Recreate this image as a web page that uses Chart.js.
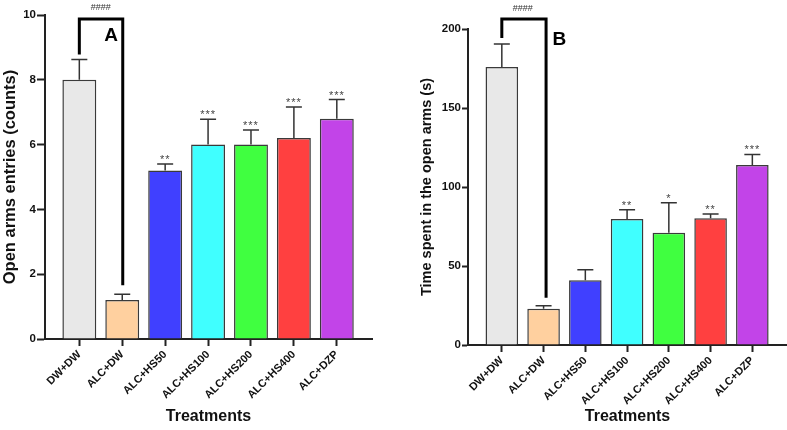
<!DOCTYPE html>
<html>
<head>
<meta charset="utf-8">
<script src="https://cdn.jsdelivr.net/npm/chart.js@4.4.0/dist/chart.umd.min.js"></script>
<style>
  html, body { margin: 0; padding: 0; background: #fff; }
  #wrap { position: relative; width: 787px; height: 430px; overflow: hidden; }
  #left { position: absolute; left: 0; top: 0; }
  #right { position: absolute; left: 415px; top: 0; }
</style>
</head>
<body>
<div id="wrap">
  <canvas id="left" width="380" height="430"></canvas>
  <canvas id="right" width="372" height="430"></canvas>
</div>
<script>
const categories = ["DW+DW", "ALC+DW", "ALC+HS50", "ALC+HS100", "ALC+HS200", "ALC+HS400", "ALC+DZP"];
const barColors = ["#e8e8e8", "#ffd09f", "#4040ff", "#40ffff", "#40ff40", "#ff4040", "#c244e8"];

// panel A : open arms entries
const entriesMean = [8.0, 1.2, 5.2, 6.0, 6.0, 6.2, 6.8];
const entriesSem = [0.63, 0.18, 0.2, 0.78, 0.45, 0.96, 0.59];
const entriesStars = ["", "", "**", "***", "***", "***", "***"];
const entriesTicks = [0, 2, 4, 6, 8, 10];

// panel B : time in open arms
const timeMean = [176, 23, 41, 79.7, 71, 80.2, 114];
const timeSem = [14.5, 1.9, 6.6, 5.9, 19, 2.7, 6.6];
const timeStars = ["", "", "", "**", "*", "**", "***"];
const timeTicks = [0, 50, 100, 150, 200];

const FONT = "'Liberation Sans', Arial, Helvetica, sans-serif";
Chart.defaults.font.family = FONT;
Chart.defaults.color = "#111";

/* ---------- error bars, stars, bracket, panel letter ---------- */
const annotate = {
  id: "annotate",
  afterDatasetsDraw(chart, args, o) {
    const { ctx } = chart;
    const xs = chart.scales.x, ys = chart.scales.y;
    ctx.save();
    ctx.strokeStyle = "#333";
    ctx.lineWidth = 1.5;
    ctx.fillStyle = "#444";
    ctx.font = "11px " + FONT;
    ctx.textAlign = "center";
    ctx.textBaseline = "alphabetic";
    if ("letterSpacing" in ctx) ctx.letterSpacing = "1px";
    const tops = [];
    o.mean.forEach((m, i) => {
      const px = xs.getPixelForValue(i);
      const top = ys.getPixelForValue(m + o.sem[i]);
      tops.push(top);
      ctx.beginPath();
      ctx.moveTo(px, ys.getPixelForValue(m));
      ctx.lineTo(px, top);
      ctx.moveTo(px - o.cap, top);
      ctx.lineTo(px + o.cap, top);
      ctx.stroke();
      if (o.stars[i]) ctx.fillText(o.stars[i], px, top - 1);
    });
    if ("letterSpacing" in ctx) ctx.letterSpacing = "0px";

    // bracket DW+DW vs ALC+DW
    const b = o.bracket;
    const x0 = xs.getPixelForValue(b.from), x1 = xs.getPixelForValue(b.to);
    const yl = ys.getPixelForValue(b.level);
    ctx.strokeStyle = "#000";
    ctx.lineWidth = 3;
    ctx.lineJoin = "miter";
    ctx.beginPath();
    ctx.moveTo(x0, tops[b.from] - b.gapFrom);
    ctx.lineTo(x0, yl);
    ctx.lineTo(x1 + b.shift, yl);
    ctx.lineTo(x1 + b.shift, tops[b.to] - b.gapTo);
    ctx.stroke();
    ctx.fillStyle = "#333";
    ctx.font = "9px " + FONT;
    ctx.textBaseline = "middle";
    ctx.fillText(b.label, (x0 + x1) / 2, yl - 11);

    // panel letter
    ctx.fillStyle = "#000";
    ctx.font = "bold 19px " + FONT;
    ctx.fillText(o.panel.text, xs.getPixelForValue(o.panel.x), ys.getPixelForValue(o.panel.y));
    ctx.restore();
  }
};

function makeChart(id, c) {
  return new Chart(document.getElementById(id), {
    type: "bar",
    data: {
      datasets: [{
        data: c.mean.map((v, i) => ({ x: i, y: v })),
        backgroundColor: barColors,
        borderColor: "#3a3a3a",
        borderWidth: 1.5,
        categoryPercentage: 1,
        barPercentage: c.barPct,
      }]
    },
    options: {
      responsive: false,
      animation: false,
      layout: { padding: c.pad },
      plugins: {
        legend: { display: false },
        tooltip: { enabled: false },
        annotate: {
          mean: c.mean, sem: c.sem, stars: c.stars, cap: 8,
          bracket: c.bracket, panel: c.panel
        }
      },
      scales: {
        x: {
          type: "linear",
          min: c.xMin, max: c.xMax,
          offset: false,
          afterBuildTicks: s => { s.ticks = categories.map((_, i) => ({ value: i })); },
          afterFit: s => { s.height = c.xHeight; },
          grid: { display: true, offset: false, drawOnChartArea: false, drawTicks: true, tickLength: 7, tickColor: "#222", tickWidth: 2 },
          border: { display: true, color: "#222", width: 2 },
          ticks: {
            autoSkip: false, minRotation: 45, maxRotation: 45, padding: 2,
            color: "#111",
            font: { size: 11, weight: "bold" },
            callback: v => categories[v]
          },
          title: { display: true, text: "Treatments", color: "#111", font: { size: 16, weight: "bold" }, padding: { top: 0, bottom: 4 } }
        },
        y: {
          min: 0, max: c.yMax,
          afterBuildTicks: s => { s.ticks = c.ticks.map(v => ({ value: v })); },
          afterFit: s => { s.width = c.yWidth; },
          grid: { display: true, drawOnChartArea: false, drawTicks: true, tickLength: c.yTick, tickColor: "#222", tickWidth: 2 },
          border: { display: true, color: "#222", width: 2 },
          ticks: { padding: 1, color: "#111", font: { size: 11.5, weight: "bold" } },
          title: { display: true, text: c.yTitle, color: "#111", font: { size: c.yTitleSize, weight: "bold" }, padding: { top: c.yTitlePad, bottom: 0 } }
        }
      }
    },
    plugins: [annotate]
  });
}

makeChart("left", {
  mean: entriesMean, sem: entriesSem, stars: entriesStars, ticks: entriesTicks,
  yMax: 10, yTitle: "Open arms entries (counts)", yTitleSize: 16.5, yTitlePad: 1, yTick: 8,
  pad: { top: 15, right: 8, left: 0, bottom: 0 },
  yWidth: 45, xHeight: 91, xMin: -0.8, xMax: 6.82, barPct: 0.79,
  bracket: { from: 0, to: 1, level: 9.88, gapFrom: 5, gapTo: 9, shift: 0.5, label: "####" },
  panel: { text: "A", x: 0.74, y: 9.35 }
});

makeChart("right", {
  mean: timeMean, sem: timeSem, stars: timeStars, ticks: timeTicks,
  yMax: 200, yTitle: "Time spent in the open arms (s)", yTitleSize: 14.5, yTitlePad: 3, yTick: 6,
  pad: { top: 29, right: 0, left: 0, bottom: 0 },
  yWidth: 53, xHeight: 85, xMin: -0.81, xMax: 6.83, barPct: 0.78,
  bracket: { from: 0, to: 1, level: 206.3, gapFrom: 6, gapTo: 8, shift: 2.5, label: "####" },
  panel: { text: "B", x: 1.38, y: 193 }
});
</script>
</body>
</html>
